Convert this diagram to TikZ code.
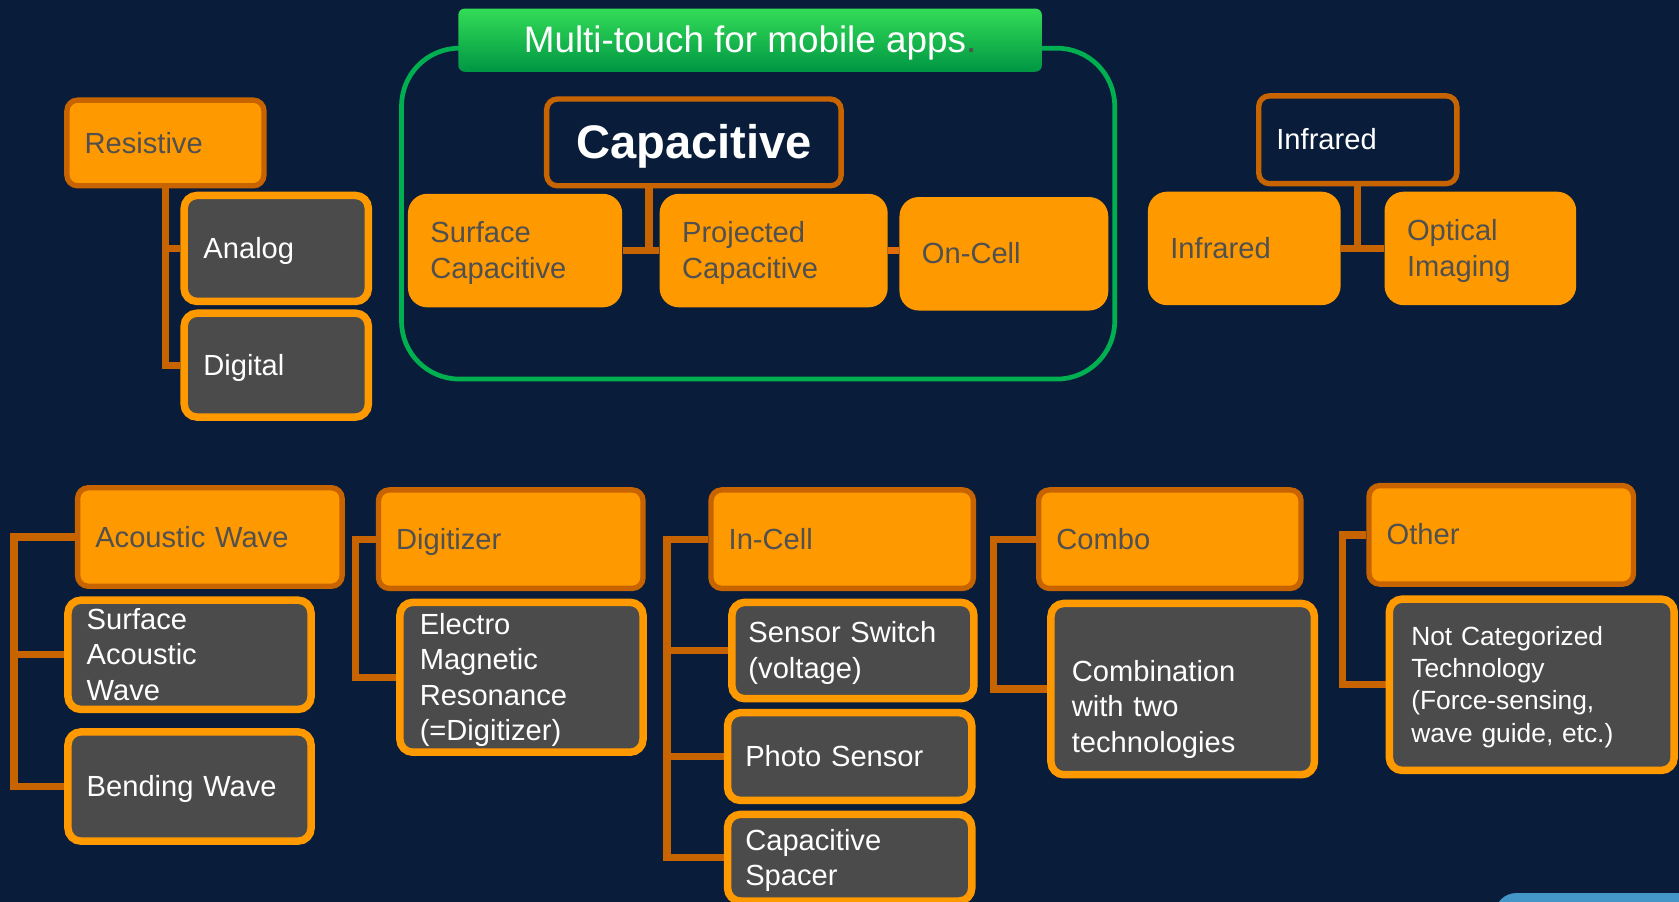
\documentclass[tikz,border=0pt]{standalone}
\usepackage{fontspec}
\setmainfont{Liberation Sans}
\pgfdeclarelayer{back}
\pgfsetlayers{back,main}

\definecolor{navy}{RGB}{9,29,58}
\definecolor{amber}{RGB}{255,153,0}
\definecolor{rust}{RGB}{200,100,0}
\definecolor{ember}{RGB}{228,108,10}
\definecolor{slate}{RGB}{75,75,75}
\definecolor{ink}{RGB}{80,80,80}
\definecolor{leaf}{RGB}{0,176,80}
\definecolor{sky}{RGB}{68,150,200}

% line box as tall as the font's ascent plus descent
\newcommand\linestrut{\rule[-0.212em]{0pt}{1.117em}}

\tikzset{
  txt/.style={font=\fontsize{13.6}{16.5}\selectfont, align=left, inner xsep=10.5pt, inner ysep=0pt,
    execute at begin node=\linestrut, execute at end node=\linestrut},
  head/.style={txt, inner xsep=8.25pt, rounded corners=5pt, fill=amber, draw=rust, line width=2.5pt, text=ink, minimum height=46pt},
  tile/.style={txt, rounded corners=9pt, fill=amber, text=ink, minimum height=53pt},
  leafbox/.style={txt, inner xsep=8.75pt, rounded corners=6pt, fill=slate, draw=amber, line width=3.5pt, text=white},
  darkbox/.style={txt, inner xsep=8.25pt, rounded corners=5pt, fill=navy, draw=rust, line width=2.5pt, text=white},
  banner/.style={rounded corners=3pt, top color=green!45!leaf!80!white, bottom color=leaf!85!black,
    text=white, font=\fontsize{17.2}{20}\selectfont, minimum width=272.5pt, minimum height=29.5pt,
    execute at begin node=\linestrut},
  link/.style={draw=rust, line width=3.4pt},
}

\begin{document}
\begin{tikzpicture}[x=0.5pt, y=-0.5pt]
\useasboundingbox (0,0) rectangle (1568,842);
\clip (0,0) rectangle (1568,842);

% capacitive frame
\draw[leaf, line width=2.2pt, rounded corners=27pt] (375,45) rectangle (1041,354);
\node[banner] (title) at (700.5,37.5) {Multi-touch for mobile apps\textcolor{ink}{.}};

% top row
\node[head, text width=75.5pt, minimum height=40pt] (res) at (154.5,133.5) {Resistive};
\node[leafbox, inner xsep=9pt, text width=68pt, minimum height=49.5pt] (analog) at (258,232) {Analog};
\node[leafbox, inner xsep=9pt, text width=68pt, minimum height=48.5pt] (digital) at (258,341) {Digital};

\node[darkbox, align=center, minimum width=137.5pt, minimum height=40.5pt,
  font=\bfseries\fontsize{22}{26}\selectfont] (capac) at (648,133) {Capacitive};
\node[tile, text width=79pt] (surf) at (481,234) {Surface\\Capacitive};
\node[tile, text width=85.5pt] (proj) at (722.5,234) {Projected\\Capacitive};
\node[tile, text width=76.5pt] (oncell) at (937.5,237) {On-Cell};

\node[darkbox, text width=76pt, minimum height=41pt] (irhead) at (1268,130.5) {Infrared};
\node[tile, text width=69pt] (irchild) at (1162,232) {Infrared};
\node[tile, text width=68.5pt] (optical) at (1382.5,232) {Optical\\Imaging};

% bottom row
\node[head, text width=107pt] (aw) at (196,501.5) {Acoustic Wave};
\node[leafbox, text width=96pt, minimum height=51pt] (saw) at (177,611.5) {Surface\\Acoustic\\Wave};
\node[leafbox, text width=96pt, minimum height=51pt] (bw) at (177,734.5) {Bending Wave};

\node[head, text width=107pt] (digi) at (477,503.5) {Digitizer};
\node[leafbox, inner xsep=9.25pt, text width=95pt, minimum height=70pt] (emr) at (487,632.5) {Electro\\Magnetic\\Resonance\\(=Digitizer)};

\node[head, text width=106pt] (incell) at (786.5,503.5) {In-Cell};
\node[leafbox, inner xsep=7.75pt, text width=97.5pt, minimum height=45pt] (ss) at (796.5,607.5) {Sensor Switch\\(voltage)};
\node[leafbox, inner xsep=8.25pt, text width=97.5pt, minimum height=41pt] (ps) at (793.5,706.5) {Photo Sensor};
\node[leafbox, inner xsep=8.25pt, text width=97.5pt, minimum height=40.5pt] (cs) at (793.5,801) {Capacitive\\Spacer};

\node[head, text width=106pt] (combo) at (1092.5,503.5) {Combo};
\node[leafbox, inner xsep=9.75pt, text width=103.5pt, minimum height=80pt] (comb) at (1104.5,643.5) {\strut\\Combination\\with two\\technologies};

\node[head, text width=107pt] (other) at (1402,499.5) {Other};
\node[leafbox, inner xsep=10.25pt, text width=112.5pt, minimum height=80pt, font=\fontsize{12.3}{15}\selectfont] (notcat) at (1430.5,639.5)
  {Not Categorized\\Technology\\(Force-sensing,\\wave guide, etc.)};

\fill[sky, rounded corners=10pt] (1396,834) rectangle (1620,900);

% rails
\coordinate (capjoin) at (606,234);
\coordinate (awrail) at (13,501.5);
\coordinate (digirail) at (332,503.5);
\coordinate (incellrail) at (623,503.5);
\coordinate (comborail) at (928,503.5);
\coordinate (otherrail) at (1254,499.5);

\begin{pgfonlayer}{back}
\fill[navy] (0,0) rectangle (1568,842);
\draw[link] (res.south) |- (analog.west);
\draw[link] (res.south) |- (digital.west);
\draw[link] (surf.east) -- (proj.west);
\draw[link] (capac.south -| capjoin) -- (capjoin);
\draw[link, draw=ember] (proj.east) -- (proj.east -| oncell.west);
\draw[link] (irchild.east) -- (optical.west);
\draw[link] (irhead.south) -- (irhead.south |- irchild.east);
\foreach \p/\r/\c in {aw/awrail/bw, digi/digirail/emr, incell/incellrail/cs, combo/comborail/comb, other/otherrail/notcat}
  {\draw[link] (\p.west) -- (\r) |- (\c.west);};
\foreach \r/\c in {awrail/saw, incellrail/ss, incellrail/ps}
  {\draw[link] (\r |- \c.west) -- (\c.west);};
\end{pgfonlayer}
\end{tikzpicture}
\end{document}
